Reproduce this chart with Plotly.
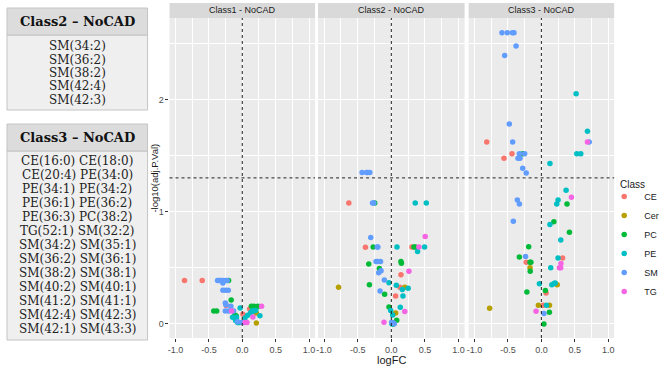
import plotly.graph_objects as go

W, H = 668, 369

# ---------------- data ----------------
classes = ["CE", "Cer", "PC", "PE", "SM", "TG"]
colors = {"CE": "#F8766D", "Cer": "#B79F00", "PC": "#00BA38",
          "PE": "#00BFC4", "SM": "#619CFF", "TG": "#F564E3"}
panel_titles = ["Class1 - NoCAD", "Class2 - NoCAD", "Class3 - NoCAD"]

# Class1 - NoCAD
logfc1 = [-0.865, -0.60, -0.24, 0.11, 0.01,
          0.21, 0.21,
          -0.205, -0.166, 0.136, 0.175, 0.234, -0.427, -0.383, -0.111, -0.09, -0.06, -0.12, 0.20,
          -0.032, -0.146, -0.087, -0.10, -0.07, -0.04, 0.041, 0.081, 0.125, 0.165, 0.20, 0.264, 0.15,
          -0.37, -0.35, -0.33, -0.31, -0.28, -0.25, -0.225, -0.29, -0.29, -0.25, -0.21, -0.254, -0.244,
          -0.17, -0.254, -0.205, -0.13, -0.07, 0.0, 0.02,
          0.289, 0.16, 0.04, 0.07, -0.16]
pval1 = [0.386, 0.386, 0.165, 0.133, 0.086,
         0.098, 0.008,
         0.386, 0.213, 0.157, 0.157, 0.157, 0.116, 0.116, 0.08, 0.07, 0.014, 0.06, 0.13,
         0.142, 0.059, 0.059, 0.03, 0.014, 0.014, 0.054, 0.078, 0.099, 0.114, 0.12, 0.074, 0.118,
         0.386, 0.386, 0.386, 0.386, 0.386, 0.386, 0.386, 0.365, 0.30, 0.30, 0.30, 0.187, 0.171,
         0.157, 0.116, 0.116, 0.116, 0.02, 0.014, 0.014,
         0.157, 0.062, 0.014, 0.014, 0.116]
class1 = (["CE"] * 5 + ["Cer"] * 2 + ["PC"] * 12 + ["PE"] * 13 + ["SM"] * 20 + ["TG"] * 5)

# Class2 - NoCAD
logfc2 = [-0.632, -0.385, 0.306, 0.143, 0.128, 0.064,
          -0.785, 0.20, 0.064,
          -0.247, -0.27, 0.336, 0.36, -0.336, 0.143, 0.15, -0.178, -0.326, -0.10, -0.035, 0.08, 0.03,
          0.356, 0.52, 0.084, 0.494, 0.39, -0.035, 0.074, 0.163, 0.25, 0.173, 0.133, -0.01, 0.02, 0.01,
          -0.435, -0.37, -0.35, -0.32, -0.28, -0.26, -0.306, -0.21, -0.20, -0.227, -0.20, -0.16,
          -0.153, -0.188, -0.104, -0.168, 0.005, 0.025, 0.044,
          0.504, 0.41, 0.262, 0.20, -0.109]
pval2 = [1.077, 0.683, 0.685, 0.439, 0.326, 0.249,
         0.326, 0.326, 0.098,
         1.077, 0.685, 0.685, 0.685, 0.535, 0.557, 0.54, 0.495, 0.35, 0.264, 0.151, 0.033, 0.0,
         1.077, 1.077, 0.685, 0.685, 0.645, 0.368, 0.344, 0.308, 0.317, 0.249, 0.148, 0.121, 0.08, 0.0,
         1.35, 1.35, 1.35, 1.35, 1.077, 1.077, 0.769, 0.685, 0.685, 0.557, 0.557, 0.557,
         0.475, 0.457, 0.391, 0.294, 0.015, 0.01, 0.003,
         0.78, 0.685, 0.469, 0.11, 0.015]
class2 = (["CE"] * 6 + ["Cer"] * 3 + ["PC"] * 13 + ["PE"] * 14 + ["SM"] * 19 + ["TG"] * 5)

# Class3 - NoCAD
logfc3 = [-0.818, -0.44, -0.56, 0.318, -0.227, 0.07, 0.025,
          -0.17, 0.237, -0.775, -0.045, 0.121,
          -0.28, 0.384, 0.187, 0.42, -0.19, -0.33, -0.17, -0.157, -0.167, -0.217, 0.06, 0.12, 0.038,
          0.52, 0.69, 0.53, 0.59, 0.128, 0.37, 0.25, 0.23, 0.128, 0.29, 0.25, 0.14, -0.03, 0.157,
          0.19, 0.207, 0.076,
          -0.59, -0.51, -0.434, -0.41, -0.379, -0.55, -0.48, -0.43, 0.717, -0.33, -0.25, -0.35,
          -0.32, -0.28, -0.227, -0.36, -0.33, -0.42, -0.237, 0.038,
          0.69, 0.45, 0.293, 0.27, 0.29, -0.08]
pval3 = [1.62, 1.516, 1.475, 0.587, 0.55, 0.276, 0.166,
         0.50, 0.35, 0.139, 0.166, 0.166,
         1.516, 1.068, 0.911, 0.816, 0.688, 0.596, 0.55, 0.55, 0.47, 0.285, 0.297, 0.104, 0.0,
         2.05, 1.716, 1.516, 1.516, 1.43, 1.19, 1.104, 1.068, 0.885, 0.748, 0.587, 0.50, 0.359, 0.35,
         0.36, 0.365, 0.166,
         2.594, 2.594, 2.594, 2.594, 2.475, 2.39, 1.78, 1.62, 1.62, 1.516, 1.516, 1.475,
         1.475, 1.386, 1.344, 1.104, 1.068, 0.914, 0.60, 0.093,
         1.62, 1.128, 0.539, 0.50, 0.50, 0.113]
class3 = (["CE"] * 7 + ["Cer"] * 5 + ["PC"] * 13 + ["PE"] * 17 + ["SM"] * 20 + ["TG"] * 6)

x_ticks = [-1.0, -0.5, 0.0, 0.5, 1.0]
x_ticklabels = ["-1.0", "-0.5", "0.0", "0.5", "1.0"]
y_ticks = [0, 1, 2]
y_ticklabels = ["0", "1", "2"]
x_range = [-1.09, 1.09]
y_range = [-0.125, 2.725]
fc_cut = 0.0
p_cut = 1.30103

table2_title = "Class2 \u2013 NoCAD"
table2_items = ["SM(34:2)", "SM(36:2)", "SM(38:2)", "SM(42:4)", "SM(42:3)"]
table3_title = "Class3 \u2013 NoCAD"
table3_items = ["CE(16:0)", "CE(18:0)", "CE(20:4)", "PE(34:0)", "PE(34:1)", "PE(34:2)",
                "PE(36:1)", "PE(36:2)", "PE(36:3)", "PC(38:2)", "TG(52:1)", "SM(32:2)",
                "SM(34:2)", "SM(35:1)", "SM(36:2)", "SM(36:1)", "SM(38:2)", "SM(38:1)",
                "SM(40:2)", "SM(40:1)", "SM(41:2)", "SM(41:1)", "SM(42:4)", "SM(42:3)",
                "SM(42:1)", "SM(43:3)"]

# ---------------- figure ----------------
def fx(p):
    return p / W

def fy(p):
    return 1 - p / H

panels_px = [(168, 314), (317, 464), (468, 614)]
panel_top, panel_bot = 18, 338
strip_top = 3

fig = go.Figure()
data_sets = [(logfc1, pval1, class1), (logfc2, pval2, class2), (logfc3, pval3, class3)]
for k, (lx, py, cl) in enumerate(data_sets):
    xa = "x" if k == 0 else f"x{k+1}"
    ya = "y" if k == 0 else f"y{k+1}"
    for c in classes:
        xs = [a for a, b in zip(lx, cl) if b == c]
        ys = [a for a, b in zip(py, cl) if b == c]
        fig.add_trace(go.Scatter(
            x=xs, y=ys, mode="markers", name=c, legendgroup=c,
            showlegend=(k == 0), xaxis=xa, yaxis=ya,
            marker=dict(color=colors[c], size=5.5, line=dict(width=0)),
            hoverinfo="skip"))

axis_font = dict(family="Liberation Sans, Arial", size=9, color="#4d4d4d")
shapes = []
annotations = []
layout = dict(
    width=W, height=H, margin=dict(l=0, r=0, t=0, b=0),
    paper_bgcolor="white", plot_bgcolor="#ebebeb",
    font=dict(family="Liberation Sans, Arial", color="#1a1a1a"),
)
for k, (x0, x1) in enumerate(panels_px):
    xname = "xaxis" if k == 0 else f"xaxis{k+1}"
    yname = "yaxis" if k == 0 else f"yaxis{k+1}"
    yref = "y" if k == 0 else f"y{k+1}"
    xref = "x" if k == 0 else f"x{k+1}"
    layout[xname] = dict(
        domain=[fx(x0), fx(x1)], range=x_range, anchor=yref,
        tickvals=x_ticks, ticktext=x_ticklabels, tickfont=axis_font,
        ticks="outside", ticklen=3, tickcolor="#333333", tickwidth=1,
        showgrid=True, gridcolor="white", gridwidth=1, zeroline=False, showline=False,
        minor=dict(tickvals=[-0.75, -0.25, 0.25, 0.75], showgrid=True,
                   gridcolor="white", gridwidth=0.5, ticks=""),
        fixedrange=True)
    layout[yname] = dict(
        domain=[fy(panel_bot), fy(panel_top)], range=y_range, anchor=xref,
        tickvals=y_ticks, ticktext=y_ticklabels, tickfont=axis_font,
        ticks="outside" if k == 0 else "", ticklen=3, tickcolor="#333333", tickwidth=1,
        ticklabelstandoff=0,
        showticklabels=(k == 0),
        showgrid=True, gridcolor="white", gridwidth=1, zeroline=False, showline=False,
        minor=dict(tickvals=[0.5, 1.5, 2.5], showgrid=True, gridcolor="white",
                   gridwidth=0.5, ticks=""),
        fixedrange=True)
    # strip
    shapes.append(dict(type="rect", xref="paper", yref="paper",
                       x0=fx(x0), x1=fx(x1), y0=fy(panel_top), y1=fy(strip_top),
                       fillcolor="#d9d9d9", line=dict(width=0), layer="below"))
    annotations.append(dict(text=panel_titles[k], xref="paper", yref="paper",
                            x=fx((x0 + x1) / 2), y=fy((strip_top + panel_top) / 2),
                            showarrow=False, xanchor="center", yanchor="middle",
                            font=dict(size=9, color="#1a1a1a")))
    # reference lines
    shapes.append(dict(type="line", xref=xref, yref=f"{yref} domain",
                       x0=fc_cut, x1=fc_cut, y0=0, y1=1,
                       line=dict(color="#222222", width=1, dash="3px,3px")))
    shapes.append(dict(type="line", xref=f"{xref} domain", yref=yref,
                       x0=0, x1=1, y0=p_cut, y1=p_cut,
                       line=dict(color="#222222", width=1, dash="3px,3px")))

# axis titles
annotations.append(dict(text="logFC", xref="paper", yref="paper",
                        x=fx((panels_px[0][0] + panels_px[2][1]) / 2), y=fy(360),
                        showarrow=False, xanchor="center", yanchor="middle",
                        font=dict(size=11, color="#1a1a1a")))
annotations.append(dict(text="-log10(adj.P.Val)", xref="paper", yref="paper",
                        x=fx(153), y=fy((panel_top + panel_bot) / 2), textangle=-90,
                        showarrow=False, xanchor="center", yanchor="middle",
                        font=dict(size=9.5, color="#1a1a1a")))
annotations.append(dict(text="Class", xref="paper", yref="paper",
                        x=fx(618), y=fy(185), showarrow=False,
                        xanchor="left", yanchor="middle",
                        font=dict(size=10, color="#1a1a1a")))

# ---------------- side tables ----------------
serif = "DejaVu Serif, serif"
tx0, tx1 = 5, 146

def add_table(title, lines, top, head_bot, bottom, row0, step):
    shapes.append(dict(type="rect", xref="paper", yref="paper",
                       x0=fx(tx0), x1=fx(tx1), y0=fy(bottom), y1=fy(head_bot),
                       fillcolor="#efefef", line=dict(color="#c4c4c4", width=1)))
    shapes.append(dict(type="rect", xref="paper", yref="paper",
                       x0=fx(tx0), x1=fx(tx1), y0=fy(head_bot), y1=fy(top),
                       fillcolor="#dcdcdc", line=dict(color="#c4c4c4", width=1)))
    annotations.append(dict(text="<b>" + title + "</b>", xref="paper", yref="paper",
                            x=fx((tx0 + tx1) / 2), y=fy((top + head_bot) / 2),
                            showarrow=False, xanchor="center", yanchor="middle",
                            font=dict(family=serif, size=13, color="#111111")))
    for i, ln in enumerate(lines):
        annotations.append(dict(text=ln, xref="paper", yref="paper",
                                x=fx((tx0 + tx1) / 2), y=fy(row0 + i * step),
                                showarrow=False, xanchor="center", yanchor="middle",
                                font=dict(family=serif, size=12, color="#222222")))

add_table(table2_title, table2_items, 8, 35, 110, 46.5, 13.3)
pairs = [table3_items[i] + " " + table3_items[i + 1] for i in range(0, len(table3_items), 2)]
add_table(table3_title, pairs, 124, 151, 340, 161, 14.0)

layout["shapes"] = shapes
layout["annotations"] = annotations
layout["legend"] = dict(
    x=fx(604), y=fy(182), xanchor="left", yanchor="top",
    font=dict(size=9, color="#1a1a1a"), bgcolor="rgba(0,0,0,0)",
    tracegroupgap=0, itemwidth=30)
fig.update_layout(**layout)
fig.write_html("out.html", config={"displayModeBar": False},
               post_script="document.body.style.margin='0px';document.body.style.padding='0px';")
